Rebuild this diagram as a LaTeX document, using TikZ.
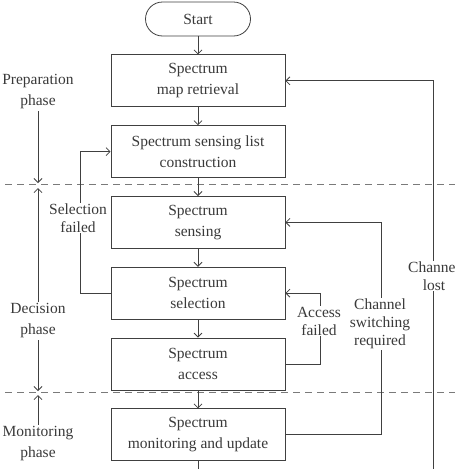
\documentclass[tikz,border=0pt]{standalone}
\usepackage{fontspec}
\setmainfont{Liberation Serif}
\usepackage{xcolor}
\usepackage{tikz}
\usetikzlibrary{arrows.meta,positioning,calc}
\definecolor{ink}{HTML}{3a3a3a}
\definecolor{wire}{HTML}{404040}
\definecolor{dash}{HTML}{7a7a7a}

\begin{document}
\begin{tikzpicture}[x=1pt, y=1pt,
    box/.style={rectangle, draw=wire, fill=white, text=ink,
                minimum width=174pt, minimum height=52pt, align=center,
                font=\fontsize{15.5}{21}\selectfont, line width=0.8pt},
    term/.style={box, rounded corners=17pt, minimum width=105pt, minimum height=34pt},
    arrow/.style={-{Straight Barb[length=4pt,width=8pt]}, line width=0.8pt, color=wire},
    lbl/.style={font=\fontsize{15.5}{18}\selectfont, text=ink, fill=white,
                align=center, inner sep=1pt},
    phaselbl/.style={font=\fontsize{15.5}{21}\selectfont, text=ink, align=center, inner sep=2pt},
    cut/.style={dashed, dash pattern=on 7pt off 5pt, line width=0.8pt, color=dash},
    node distance=18pt,
]
\useasboundingbox (0,0) rectangle (455,-469);

% phase borders
\coordinate (cutA) at (5,-184);
\coordinate (cutB) at (455,-184);
\coordinate (cutC) at (5,-392);
\coordinate (cutD) at (455,-392);
\draw[cut] (cutA) -- (cutB);
\draw[cut] (cutC) -- (cutD);

\node[term] (start) at (198,-19) {Start};
\node[box,below=of start] (retrieval) {Spectrum\\map retrieval};
\node[box,below=of retrieval] (list) {Spectrum sensing list\\construction};
\node[box,below=of list] (sensing) {Spectrum\\sensing};
\node[box,below=of sensing] (selection) {Spectrum\\selection};
\node[box,below=of selection] (access) {Spectrum\\access};
\node[box,below=of access] (monitor) {Spectrum\\monitoring and update};

\coordinate (exit) at (198,-475);
\coordinate (lost) at (433,-475);

\draw[arrow] (start) -- (retrieval);
\draw[arrow] (retrieval) -- (list);
\draw[arrow] (list) -- (sensing);
\draw[arrow] (sensing) -- (selection);
\draw[arrow] (selection) -- (access);
\draw[arrow] (access) -- (monitor);
\draw[arrow] (monitor) -- (exit);

\draw[arrow] (selection.west) -- ++(-30,0) |- (list);
\draw[arrow] (access.east) -- ++(35,0) |- (selection);
\draw[arrow] (monitor.east) -- ++(96,0) |- (sensing);
\draw[arrow] (lost) |- (retrieval);

\node[lbl] (selfail) at (78,-218) {Selection\\failed};
\node[lbl] (accfail) at (319,-321) {Access\\failed};
\node[lbl] (switch) at (380,-324) {Channel\\switching\\required};
\node[lbl] (chlost) at (434,-276) {Channel\\lost};

% phase labels
\coordinate (phA) at (38,-184);
\coordinate (phB) at (38,-392);
\node[phaselbl] (prep) at (38,-92) {Preparation\\phase};
\node[phaselbl] (decide) at (38,-321) {Decision\\phase};
\node[phaselbl] (watch) at (38,-444) {Monitoring\\phase};

\draw[arrow, shorten >=1pt] (prep) -- (phA);
\draw[arrow, shorten >=4pt] (decide) -- (phA);
\draw[arrow, shorten >=1pt] (decide) -- (phB);
\draw[arrow, shorten >=3pt] (watch) -- (phB);

\end{tikzpicture}
\end{document}
